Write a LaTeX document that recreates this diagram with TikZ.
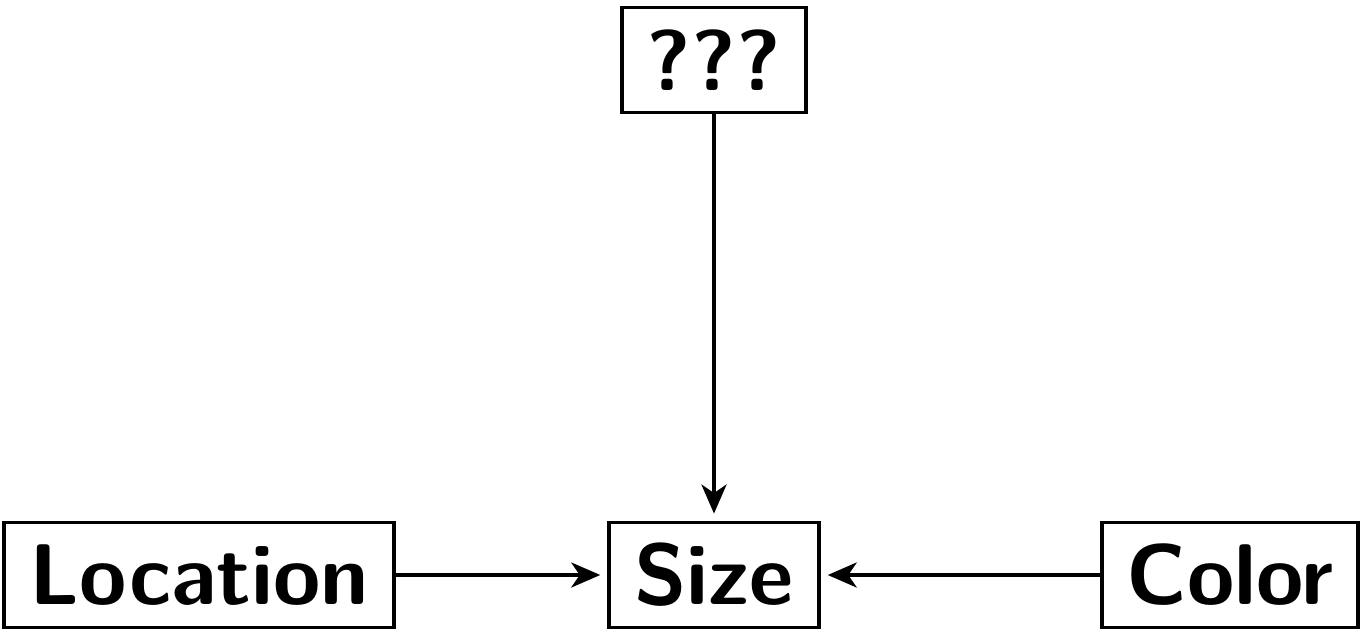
\documentclass[tikz,border=0pt]{standalone}
\usepackage{tikz}
\usetikzlibrary{arrows.meta}

\begin{document}
\begin{tikzpicture}[
  var/.style={draw, line width=2.2pt, inner xsep=0.5cm, minimum height=2.1cm,
    font=\fontsize{49}{58}\selectfont\sffamily\bfseries},
  edge/.style={line width=2.2pt, -{Stealth[length=0.58cm, width=0.5cm, inset=0.17cm]}, shorten >=0.14cm}
]
\useasboundingbox (0,0) rectangle (27.24,-12.62);
\node[var] (loc) at (3.98,-11.5) {Location};
\node[var] (size) at (14.28,-11.5) {Size};
\node[var] (col) at (24.6,-11.5) {Color};
\node[var] (unk) at (14.28,-1.2) {???};
\draw[edge] (loc) -- (size);
\draw[edge] (col) -- (size);
\draw[edge] (unk) -- (size);
\end{tikzpicture}
\end{document}
